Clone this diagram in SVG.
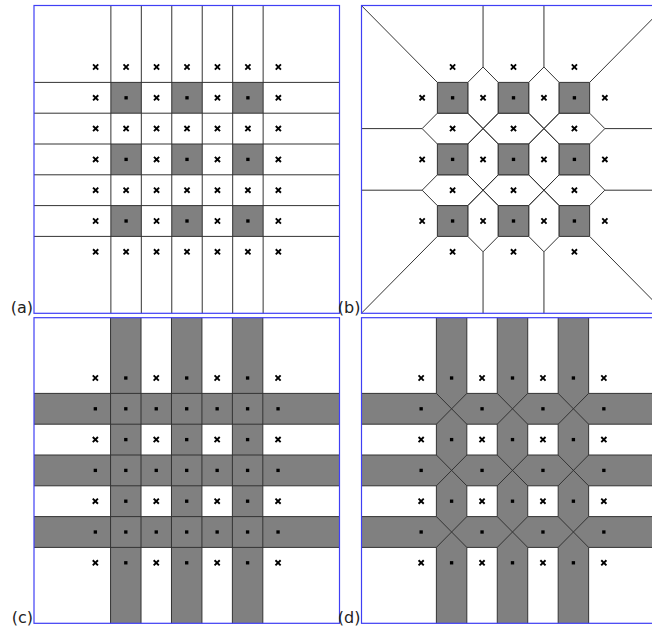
<svg xmlns="http://www.w3.org/2000/svg" width="652" height="626" viewBox="0 0 652 626">
<style>
.frame{fill:none;stroke:#3f3ff5;stroke-width:1.2}
.ln{fill:none;stroke:#333;stroke-width:1;vector-effect:non-scaling-stroke}
.sq{fill:#808080;stroke:#333;stroke-width:1;vector-effect:non-scaling-stroke}
.gray{fill:#808080}
.whf{fill:#fff}
.wh{fill:#fff;stroke:#333;stroke-width:1;vector-effect:non-scaling-stroke}
.xm{fill:none;stroke:#000;stroke-width:1.9;vector-effect:non-scaling-stroke}
.lbl{font-family:"DejaVu Sans",sans-serif;font-size:16px;fill:#222}
</style>
<defs>
<path id="x" class="xm" d="M-0.085,-0.083L0.085,0.083M0.085,-0.083L-0.085,0.083"/>
<rect id="d" x="-0.055" y="-0.054" width="0.11" height="0.108" fill="#000"/>
<clipPath id="ca"><rect x="34" y="5.5" width="305.5" height="307.8"/></clipPath>
<clipPath id="cb"><rect x="361.5" y="5.5" width="306" height="307.8"/></clipPath>
<clipPath id="cc"><rect x="34" y="317.7" width="305.5" height="305.6"/></clipPath>
<clipPath id="cd"><rect x="361.5" y="317.7" width="306" height="305.6"/></clipPath>
</defs>
<rect x="0" y="0" width="652" height="626" fill="#fff"/>

<g id="panel-a">
<g clip-path="url(#ca)">
<g transform="translate(187,159.4) scale(30.45,30.8)">
<rect class="gray" x="-2.5" y="-2.5" width="1" height="1"/><rect class="gray" x="-0.5" y="-2.5" width="1" height="1"/><rect class="gray" x="1.5" y="-2.5" width="1" height="1"/>
<rect class="gray" x="-2.5" y="-0.5" width="1" height="1"/><rect class="gray" x="-0.5" y="-0.5" width="1" height="1"/><rect class="gray" x="1.5" y="-0.5" width="1" height="1"/>
<rect class="gray" x="-2.5" y="1.5" width="1" height="1"/><rect class="gray" x="-0.5" y="1.5" width="1" height="1"/><rect class="gray" x="1.5" y="1.5" width="1" height="1"/>
<path class="ln" d="M-2.5,-6V6M-1.5,-6V6M-0.5,-6V6M0.5,-6V6M1.5,-6V6M2.5,-6V6M-6,-2.5H6M-6,-1.5H6M-6,-0.5H6M-6,0.5H6M-6,1.5H6M-6,2.5H6"/>
<use href="#x" x="-3" y="-3"/><use href="#x" x="-2" y="-3"/><use href="#x" x="-1" y="-3"/><use href="#x" x="0" y="-3"/><use href="#x" x="1" y="-3"/><use href="#x" x="2" y="-3"/><use href="#x" x="3" y="-3"/>
<use href="#x" x="-3" y="-2"/><use href="#d" x="-2" y="-2"/><use href="#x" x="-1" y="-2"/><use href="#d" x="0" y="-2"/><use href="#x" x="1" y="-2"/><use href="#d" x="2" y="-2"/><use href="#x" x="3" y="-2"/>
<use href="#x" x="-3" y="-1"/><use href="#x" x="-2" y="-1"/><use href="#x" x="-1" y="-1"/><use href="#x" x="0" y="-1"/><use href="#x" x="1" y="-1"/><use href="#x" x="2" y="-1"/><use href="#x" x="3" y="-1"/>
<use href="#x" x="-3" y="0"/><use href="#d" x="-2" y="0"/><use href="#x" x="-1" y="0"/><use href="#d" x="0" y="0"/><use href="#x" x="1" y="0"/><use href="#d" x="2" y="0"/><use href="#x" x="3" y="0"/>
<use href="#x" x="-3" y="1"/><use href="#x" x="-2" y="1"/><use href="#x" x="-1" y="1"/><use href="#x" x="0" y="1"/><use href="#x" x="1" y="1"/><use href="#x" x="2" y="1"/><use href="#x" x="3" y="1"/>
<use href="#x" x="-3" y="2"/><use href="#d" x="-2" y="2"/><use href="#x" x="-1" y="2"/><use href="#d" x="0" y="2"/><use href="#x" x="1" y="2"/><use href="#d" x="2" y="2"/><use href="#x" x="3" y="2"/>
<use href="#x" x="-3" y="3"/><use href="#x" x="-2" y="3"/><use href="#x" x="-1" y="3"/><use href="#x" x="0" y="3"/><use href="#x" x="1" y="3"/><use href="#x" x="2" y="3"/><use href="#x" x="3" y="3"/>
</g>
</g>
<rect class="frame" x="34" y="5.5" width="305.5" height="307.8"/>
<text class="lbl" x="33" y="313" text-anchor="end">(a)</text>
</g>

<g id="panel-b">
<g clip-path="url(#cb)">
<g transform="translate(513.5,159.4) scale(30.45,30.8)">
<path class="ln" d="M-1.5,-2.5L-1,-3L-0.5,-2.5V-1.5L-1,-1L-1.5,-1.5Z M0.5,-2.5L1,-3L1.5,-2.5V-1.5L1,-1L0.5,-1.5Z M-1.5,-0.5L-1,-1L-0.5,-0.5V0.5L-1,1L-1.5,0.5Z M0.5,-0.5L1,-1L1.5,-0.5V0.5L1,1L0.5,0.5Z M-1.5,1.5L-1,1L-0.5,1.5V2.5L-1,3L-1.5,2.5Z M0.5,1.5L1,1L1.5,1.5V2.5L1,3L0.5,2.5Z"/>
<path class="ln" d="M-3,-1L-2.5,-1.5H-1.5L-1,-1L-1.5,-0.5H-2.5Z M-1,-1L-0.5,-1.5H0.5L1,-1L0.5,-0.5H-0.5Z M1,-1L1.5,-1.5H2.5L3,-1L2.5,-0.5H1.5Z M-3,1L-2.5,0.5H-1.5L-1,1L-1.5,1.5H-2.5Z M-1,1L-0.5,0.5H0.5L1,1L0.5,1.5H-0.5Z M1,1L1.5,0.5H2.5L3,1L2.5,1.5H1.5Z"/>
<path class="ln" d="M-2.5,-2.5L-6,-6M2.5,-2.5L6,-6M-2.5,2.5L-6,6M2.5,2.5L6,6M-1,-3V-6M1,-3V-6M-1,3V6M1,3V6M-3,-1H-6M-3,1H-6M3,-1H6M3,1H6"/>
<rect class="sq" x="-2.5" y="-2.5" width="1" height="1"/><rect class="sq" x="-0.5" y="-2.5" width="1" height="1"/><rect class="sq" x="1.5" y="-2.5" width="1" height="1"/>
<rect class="sq" x="-2.5" y="-0.5" width="1" height="1"/><rect class="sq" x="-0.5" y="-0.5" width="1" height="1"/><rect class="sq" x="1.5" y="-0.5" width="1" height="1"/>
<rect class="sq" x="-2.5" y="1.5" width="1" height="1"/><rect class="sq" x="-0.5" y="1.5" width="1" height="1"/><rect class="sq" x="1.5" y="1.5" width="1" height="1"/>
<use href="#x" x="-2" y="-3"/><use href="#x" x="0" y="-3"/><use href="#x" x="2" y="-3"/>
<use href="#x" x="-3" y="-2"/><use href="#d" x="-2" y="-2"/><use href="#x" x="-1" y="-2"/><use href="#d" x="0" y="-2"/><use href="#x" x="1" y="-2"/><use href="#d" x="2" y="-2"/><use href="#x" x="3" y="-2"/>
<use href="#x" x="-2" y="-1"/><use href="#x" x="0" y="-1"/><use href="#x" x="2" y="-1"/>
<use href="#x" x="-3" y="0"/><use href="#d" x="-2" y="0"/><use href="#x" x="-1" y="0"/><use href="#d" x="0" y="0"/><use href="#x" x="1" y="0"/><use href="#d" x="2" y="0"/><use href="#x" x="3" y="0"/>
<use href="#x" x="-2" y="1"/><use href="#x" x="0" y="1"/><use href="#x" x="2" y="1"/>
<use href="#x" x="-3" y="2"/><use href="#d" x="-2" y="2"/><use href="#x" x="-1" y="2"/><use href="#d" x="0" y="2"/><use href="#x" x="1" y="2"/><use href="#d" x="2" y="2"/><use href="#x" x="3" y="2"/>
<use href="#x" x="-2" y="3"/><use href="#x" x="0" y="3"/><use href="#x" x="2" y="3"/>
</g>
</g>
<rect class="frame" x="361.5" y="5.5" width="306" height="307.8"/>
<text class="lbl" x="360.5" y="313" text-anchor="end">(b)</text>
</g>

<g id="panel-c">
<g clip-path="url(#cc)">
<g transform="translate(186.7,470.4) scale(30.45,30.8)">
<rect class="gray" x="-6" y="-6" width="12" height="12"/>
<rect class="whf" x="-6" y="-6" width="3.5" height="3.5"/><rect class="whf" x="-1.5" y="-6" width="1" height="3.5"/><rect class="whf" x="0.5" y="-6" width="1" height="3.5"/><rect class="whf" x="2.5" y="-6" width="3.5" height="3.5"/>
<rect class="whf" x="-6" y="-1.5" width="3.5" height="1"/><rect class="whf" x="-1.5" y="-1.5" width="1" height="1"/><rect class="whf" x="0.5" y="-1.5" width="1" height="1"/><rect class="whf" x="2.5" y="-1.5" width="3.5" height="1"/>
<rect class="whf" x="-6" y="0.5" width="3.5" height="1"/><rect class="whf" x="-1.5" y="0.5" width="1" height="1"/><rect class="whf" x="0.5" y="0.5" width="1" height="1"/><rect class="whf" x="2.5" y="0.5" width="3.5" height="1"/>
<rect class="whf" x="-6" y="2.5" width="3.5" height="3.5"/><rect class="whf" x="-1.5" y="2.5" width="1" height="3.5"/><rect class="whf" x="0.5" y="2.5" width="1" height="3.5"/><rect class="whf" x="2.5" y="2.5" width="3.5" height="3.5"/>
<path class="ln" d="M-2.5,-6V6M-1.5,-6V6M-0.5,-6V6M0.5,-6V6M1.5,-6V6M2.5,-6V6M-6,-2.5H6M-6,-1.5H6M-6,-0.5H6M-6,0.5H6M-6,1.5H6M-6,2.5H6"/>
<use href="#x" x="-3" y="-3"/><use href="#d" x="-2" y="-3"/><use href="#x" x="-1" y="-3"/><use href="#d" x="0" y="-3"/><use href="#x" x="1" y="-3"/><use href="#d" x="2" y="-3"/><use href="#x" x="3" y="-3"/>
<use href="#d" x="-3" y="-2"/><use href="#d" x="-2" y="-2"/><use href="#d" x="-1" y="-2"/><use href="#d" x="0" y="-2"/><use href="#d" x="1" y="-2"/><use href="#d" x="2" y="-2"/><use href="#d" x="3" y="-2"/>
<use href="#x" x="-3" y="-1"/><use href="#d" x="-2" y="-1"/><use href="#x" x="-1" y="-1"/><use href="#d" x="0" y="-1"/><use href="#x" x="1" y="-1"/><use href="#d" x="2" y="-1"/><use href="#x" x="3" y="-1"/>
<use href="#d" x="-3" y="0"/><use href="#d" x="-2" y="0"/><use href="#d" x="-1" y="0"/><use href="#d" x="0" y="0"/><use href="#d" x="1" y="0"/><use href="#d" x="2" y="0"/><use href="#d" x="3" y="0"/>
<use href="#x" x="-3" y="1"/><use href="#d" x="-2" y="1"/><use href="#x" x="-1" y="1"/><use href="#d" x="0" y="1"/><use href="#x" x="1" y="1"/><use href="#d" x="2" y="1"/><use href="#x" x="3" y="1"/>
<use href="#d" x="-3" y="2"/><use href="#d" x="-2" y="2"/><use href="#d" x="-1" y="2"/><use href="#d" x="0" y="2"/><use href="#d" x="1" y="2"/><use href="#d" x="2" y="2"/><use href="#d" x="3" y="2"/>
<use href="#x" x="-3" y="3"/><use href="#d" x="-2" y="3"/><use href="#x" x="-1" y="3"/><use href="#d" x="0" y="3"/><use href="#x" x="1" y="3"/><use href="#d" x="2" y="3"/><use href="#x" x="3" y="3"/>
</g>
</g>
<rect class="frame" x="34" y="317.7" width="305.5" height="305.6"/>
<text class="lbl" x="33" y="623" text-anchor="end">(c)</text>
</g>

<g id="panel-d">
<g clip-path="url(#cd)">
<g transform="translate(512.5,470.4) scale(30.45,30.8)">
<rect class="gray" x="-6" y="-6" width="12" height="12"/>
<rect class="wh" x="-6" y="-6" width="3.5" height="3.5"/><rect class="wh" x="-1.5" y="-6" width="1" height="3.5"/><rect class="wh" x="0.5" y="-6" width="1" height="3.5"/><rect class="wh" x="2.5" y="-6" width="3.5" height="3.5"/>
<rect class="wh" x="-6" y="-1.5" width="3.5" height="1"/><rect class="wh" x="-1.5" y="-1.5" width="1" height="1"/><rect class="wh" x="0.5" y="-1.5" width="1" height="1"/><rect class="wh" x="2.5" y="-1.5" width="3.5" height="1"/>
<rect class="wh" x="-6" y="0.5" width="3.5" height="1"/><rect class="wh" x="-1.5" y="0.5" width="1" height="1"/><rect class="wh" x="0.5" y="0.5" width="1" height="1"/><rect class="wh" x="2.5" y="0.5" width="3.5" height="1"/>
<rect class="wh" x="-6" y="2.5" width="3.5" height="3.5"/><rect class="wh" x="-1.5" y="2.5" width="1" height="3.5"/><rect class="wh" x="0.5" y="2.5" width="1" height="3.5"/><rect class="wh" x="2.5" y="2.5" width="3.5" height="3.5"/>
<path class="ln" d="M-2.5,-2.5L-1.5,-1.5M-1.5,-2.5L-2.5,-1.5M-0.5,-2.5L0.5,-1.5M0.5,-2.5L-0.5,-1.5M1.5,-2.5L2.5,-1.5M2.5,-2.5L1.5,-1.5M-2.5,-0.5L-1.5,0.5M-1.5,-0.5L-2.5,0.5M-0.5,-0.5L0.5,0.5M0.5,-0.5L-0.5,0.5M1.5,-0.5L2.5,0.5M2.5,-0.5L1.5,0.5M-2.5,1.5L-1.5,2.5M-1.5,1.5L-2.5,2.5M-0.5,1.5L0.5,2.5M0.5,1.5L-0.5,2.5M1.5,1.5L2.5,2.5M2.5,1.5L1.5,2.5"/>
<use href="#x" x="-3" y="-3"/><use href="#d" x="-2" y="-3"/><use href="#x" x="-1" y="-3"/><use href="#d" x="0" y="-3"/><use href="#x" x="1" y="-3"/><use href="#d" x="2" y="-3"/><use href="#x" x="3" y="-3"/>
<use href="#d" x="-3" y="-2"/><use href="#d" x="-1" y="-2"/><use href="#d" x="1" y="-2"/><use href="#d" x="3" y="-2"/>
<use href="#x" x="-3" y="-1"/><use href="#d" x="-2" y="-1"/><use href="#x" x="-1" y="-1"/><use href="#d" x="0" y="-1"/><use href="#x" x="1" y="-1"/><use href="#d" x="2" y="-1"/><use href="#x" x="3" y="-1"/>
<use href="#d" x="-3" y="0"/><use href="#d" x="-1" y="0"/><use href="#d" x="1" y="0"/><use href="#d" x="3" y="0"/>
<use href="#x" x="-3" y="1"/><use href="#d" x="-2" y="1"/><use href="#x" x="-1" y="1"/><use href="#d" x="0" y="1"/><use href="#x" x="1" y="1"/><use href="#d" x="2" y="1"/><use href="#x" x="3" y="1"/>
<use href="#d" x="-3" y="2"/><use href="#d" x="-1" y="2"/><use href="#d" x="1" y="2"/><use href="#d" x="3" y="2"/>
<use href="#x" x="-3" y="3"/><use href="#d" x="-2" y="3"/><use href="#x" x="-1" y="3"/><use href="#d" x="0" y="3"/><use href="#x" x="1" y="3"/><use href="#d" x="2" y="3"/><use href="#x" x="3" y="3"/>
</g>
</g>
<rect class="frame" x="361.5" y="317.7" width="306" height="305.6"/>
<text class="lbl" x="360.5" y="623" text-anchor="end">(d)</text>
</g>
</svg>
